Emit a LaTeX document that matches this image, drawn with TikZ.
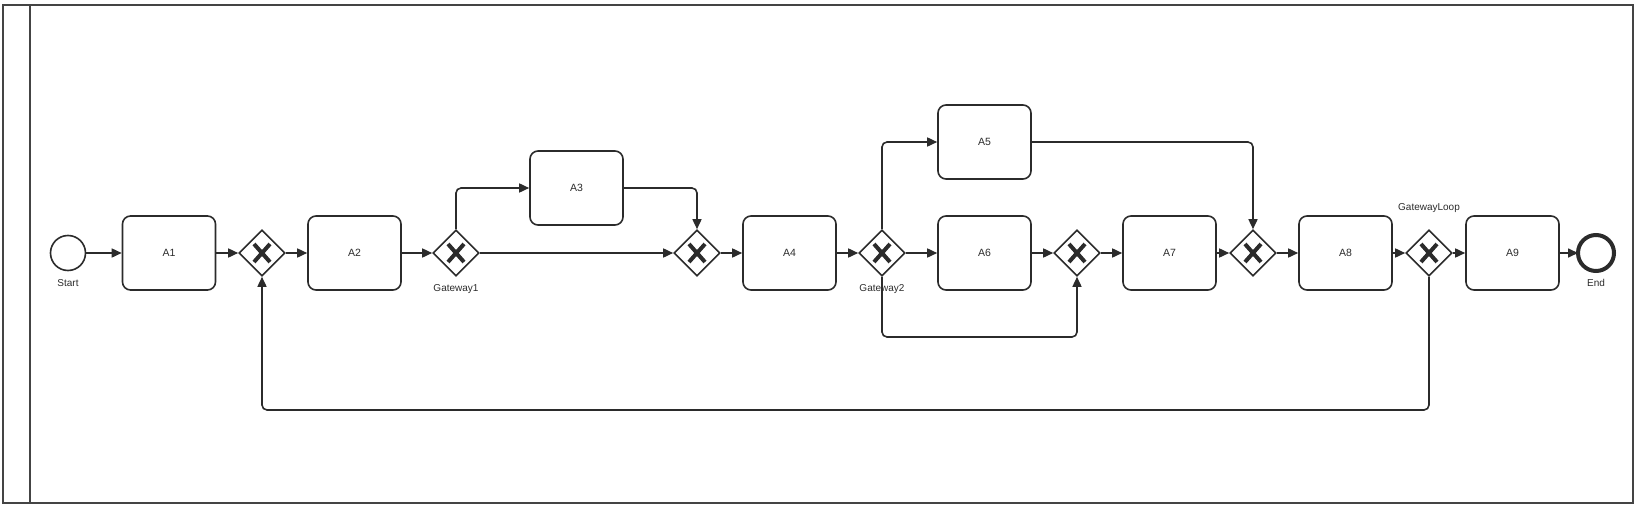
\documentclass[tikz,border=0pt]{standalone}
\usepackage{fontspec}
\setmainfont{Liberation Sans}
\usetikzlibrary{shapes.geometric,arrows.meta}
\definecolor{ink}{HTML}{2B2B2B}
\definecolor{frame}{HTML}{444444}
\tikzset{
  task/.style={draw=ink,line width=1.6pt,rounded corners=8pt,minimum width=93pt,minimum height=74pt,inner sep=0pt,font=\fontsize{10.5}{12}\selectfont,text=ink},
  gate/.style={draw=ink,line width=1.6pt,shape=diamond,minimum width=46pt,minimum height=46pt,inner sep=0pt,
    path picture={\draw[ink,line width=4pt,line cap=butt] (path picture bounding box.center) ++(-8,-9) -- ++(16,18);
                  \draw[ink,line width=4pt,line cap=butt] (path picture bounding box.center) ++(-8,9) -- ++(16,-18);}},
  startev/.style={draw=ink,line width=1.6pt,circle,minimum size=35pt,inner sep=0pt},
  endev/.style={draw=ink,line width=4pt,circle,minimum size=36pt,inner sep=0pt,outer sep=0pt},
  lbl/.style={font=\fontsize{10}{12}\selectfont,text=ink,inner sep=0pt},
  flow/.style={draw=ink,line width=1.6pt,rounded corners=5pt,-{Triangle[length=10pt,width=9pt]}},
}
\begin{document}
\begin{tikzpicture}[x=1pt,y=1pt]
\useasboundingbox (0,0) rectangle (1639,-506);
% pool frame
\draw[frame,line width=1.5pt] (3,-5) rectangle (1633,-503);
\draw[frame,line width=1.5pt] (30,-5) -- (30,-503);
% nodes
\node[startev] (start) at (68,-253) {};
\node[lbl] (startl) at (68,-283) {Start};
\node[task] (a1) at (169,-253) {A1};
\node[gate] (gm1) at (262,-253) {};
\node[task] (a2) at (354.5,-253) {A2};
\node[gate] (gw1) at (456,-253) {};
\node[lbl] (gw1l) at (456,-289) {Gateway1};
\node[task] (a3) at (576.5,-188) {A3};
\node[gate] (gm2) at (697,-253) {};
\node[task] (a4) at (789.5,-253) {A4};
\node[gate] (gw2) at (882,-253) {};
\node[lbl] (gw2l) at (882,-289) {Gateway2};
\node[task] (a5) at (984.5,-142) {A5};
\node[task] (a6) at (984.5,-253) {A6};
\node[gate] (gm3) at (1077,-253) {};
\node[task] (a7) at (1169.5,-253) {A7};
\node[gate] (gm4) at (1253,-253) {};
\node[task] (a8) at (1345.5,-253) {A8};
\node[gate] (gwl) at (1429,-253) {};
\node[lbl] (gwll) at (1429,-208) {GatewayLoop};
\node[task] (a9) at (1512.5,-253) {A9};
\node[endev] (end) at (1596,-253) {};
\node[lbl] (endl) at (1596,-283) {End};
\coordinate (b1) at (1077,-337);
\coordinate (b2) at (262,-410);
% flows
\draw[flow] (start) -- (a1);
\draw[flow] (a1) -- (gm1);
\draw[flow] (gm1) -- (a2);
\draw[flow] (a2) -- (gw1);
\draw[flow] (gw1.north) |- (a3.west);
\draw[flow] (gw1) -- (gm2);
\draw[flow] (a3.east) -| (gm2.north);
\draw[flow] (gm2) -- (a4);
\draw[flow] (a4) -- (gw2);
\draw[flow] (gw2.north) |- (a5.west);
\draw[flow] (gw2) -- (a6);
\draw[flow] (gw2.south) |- (b1) -- (gm3.south);
\draw[flow] (a6) -- (gm3);
\draw[flow] (gm3) -- (a7);
\draw[flow] (a7) -- (gm4);
\draw[flow] (a5.east) -| (gm4.north);
\draw[flow] (gm4) -- (a8);
\draw[flow] (a8) -- (gwl);
\draw[flow] (gwl) -- (a9);
\draw[flow] (a9) -- (end);
\draw[flow] (gwl.south) |- (b2) -- (gm1.south);
\end{tikzpicture}
\end{document}
